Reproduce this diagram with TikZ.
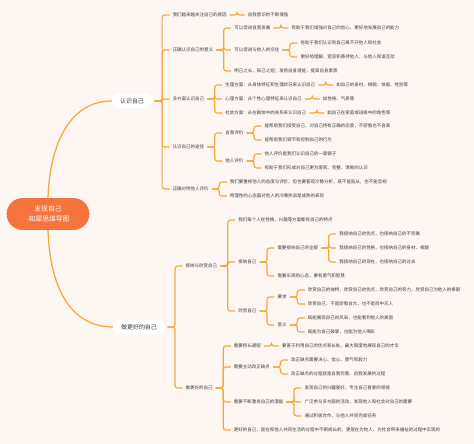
\documentclass[tikz,border=0pt]{standalone}
\usepackage{fontspec}
\setmainfont{Noto Sans CJK SC}
\usetikzlibrary{positioning}
\definecolor{mmBg}{HTML}{FDF6F2}
\definecolor{mmLine}{HTML}{F5A83A}
\definecolor{mmRoot}{HTML}{F4743B}
\definecolor{mmText}{HTML}{3C3C3C}

\tikzset{
  mmtext/.style={anchor=west,inner sep=0.5pt,text height=3.7pt,text depth=0.9pt,
    font=\fontsize{4.5}{5.3}\selectfont,text=mmText},
  mmlink/.style={draw=mmLine,line width=1.15pt,rounded corners=2.5pt},
  mmtrunk/.style={draw=mmLine,line width=1.25pt},
  mmbox/.style={fill=white,rounded corners=7pt,minimum height=15,inner xsep=8pt,
    inner ysep=0pt,font=\fontsize{6}{7}\selectfont,text=mmText},
  mmroot/.style={fill=mmRoot,rounded corners=16pt,minimum width=83,minimum height=32,
    align=center,font=\fontsize{6.8}{10.5}\selectfont,text=white}
}

% child node right of its parent, joined by a bracket line
\newcommand{\kid}[4]{%
  \node[mmtext,xshift=20] (#1) at (#2.east |- 0,#3) {#4};
  \draw[mmlink] ([xshift=2.5]#2.east) -- ([xshift=10]#2.east) |- ([xshift=-2.5]#1.west);}

\begin{document}
\begin{tikzpicture}[x=1bp,y=-1bp]
  \fill[mmBg] (0,0) rectangle (474,444);

  \node[mmroot] (root) at (48,214) {发现自己\\-知犀思维导图};
  \node[mmbox] (kn) at (132,101) {认识自己};
  \node[mmbox] (kb) at (139,327) {做更好的自己};
  \draw[mmtrunk] (root.north) .. controls (50,140) and (72,101) .. (kn.west);
  \draw[mmtrunk] (root.south) .. controls (50,290) and (72,327) .. (kb.west);

  % 认识自己
  \kid{a1}{kn}{15}{我们越来越关注自己的原因}
  \kid{a1a}{a1}{15}{自我意识的不断增强}
  \kid{a2}{kn}{50}{正确认识自己的意义}
  \kid{a21}{a2}{28}{可以促进自我发展}
  \kid{a21a}{a21}{28}{有助于我们增强对自己的信心，更好地发展自己的能力}
  \kid{a22}{a2}{50}{可以促进与他人的交往}
  \kid{a221}{a22}{43}{有助于我们认识到自己离不开他人和社会}
  \kid{a222}{a22}{57}{更好地理解、宽容和善待他人，与他人和谐互动}
  \kid{a23}{a2}{71}{明己之长，知己之短；发扬自身潜能，提高自身素质}
  \kid{a3}{kn}{99}{多方面认识自己}
  \kid{a31}{a3}{85}{生理方面：从身体特征和生理状况来认识自己}
  \kid{a31a}{a31}{85}{如自己的身材、相貌、体能、性别等}
  \kid{a32}{a3}{99}{心理方面：从个性心理特征来认识自己}
  \kid{a32a}{a32}{99}{如性格、气质等}
  \kid{a33}{a3}{113}{社会方面：从在群体中的关系来认识自己}
  \kid{a33a}{a33}{113}{如自己在家庭或班级中的角色等}
  \kid{a4}{kn}{147}{认识自己的途径}
  \kid{a41}{a4}{133}{自我评价}
  \kid{a411}{a41}{126}{能帮助我们接受自己，对自己持有正确的态度，不骄傲也不自卑}
  \kid{a412}{a41}{140}{能帮助我们调节和控制自己的行为}
  \kid{a42}{a4}{161}{他人评价}
  \kid{a421}{a42}{154}{他人评价是我们认识自己的一面镜子}
  \kid{a422}{a42}{168}{有助于我们形成对自己更为客观、完整、清晰的认识}
  \kid{a5}{kn}{189}{正确对待他人评价}
  \kid{a51}{a5}{182}{我们要重视他人的态度与评价，但也要客观冷静分析，既不能盲从，也不能忽视}
  \kid{a52}{a5}{196}{用理性的心态面对他人的冷嘲热讽是成熟的表现}

  % 做更好的自己
  \kid{b1}{kb}{266}{接纳与欣赏自己}
  \kid{b11}{b1}{220}{我们每个人在性格、兴趣等方面都有自己的特点}
  \kid{b12}{b1}{262}{接纳自己}
  \kid{b121}{b12}{248}{需要接纳自己的全部}
  \kid{b1211}{b121}{234}{我接纳自己的优点，也接纳自己的不完美}
  \kid{b1212}{b121}{248}{我接纳自己的性格，也接纳自己的身材、相貌}
  \kid{b1213}{b121}{262}{我接纳自己的现在，也接纳自己的过去}
  \kid{b122}{b12}{276}{需要乐观的心态，要有勇气和智慧}
  \kid{b13}{b1}{311}{欣赏自己}
  \kid{b131}{b13}{297}{要求}
  \kid{b1311}{b131}{290}{欣赏自己的独特，欣赏自己的优点，欣赏自己的努力，欣赏自己为他人的奉献}
  \kid{b1312}{b131}{304}{欣赏自己，不是骄傲自大，也不是目中无人}
  \kid{b132}{b13}{325}{意义}
  \kid{b1321}{b132}{318}{既能展现自己的风采，也能看到他人的美丽}
  \kid{b1322}{b132}{332}{既能为自己鼓掌，也能为他人喝彩}
  \kid{b2}{kb}{388}{做更好的自己}
  \kid{b21}{b2}{346}{需要扬长避短}
  \kid{b21a}{b21}{346}{要善于利用自己的优点和长处，最大限度地展现自己的才华}
  \kid{b22}{b2}{367}{需要主动改正缺点}
  \kid{b221}{b22}{360}{改正缺点需要决心、信心、勇气和毅力}
  \kid{b222}{b22}{374}{改正缺点的过程就是自我完善、自我发展的过程}
  \kid{b23}{b2}{402}{需要不断激发自己的潜能}
  \kid{b231}{b23}{388}{发现自己的兴趣爱好，专注自己喜爱的领域}
  \kid{b232}{b23}{402}{广泛参与多方面的活动，发现他人和社会对自己的需要}
  \kid{b233}{b23}{416}{通过积极合作，与他人共同完成任务}
  \kid{b24}{b2}{430}{更好的自己，是在和他人共同生活的过程中不断成长的，更是在为他人、为社会带来福祉的过程中实现的}
\end{tikzpicture}
\end{document}
